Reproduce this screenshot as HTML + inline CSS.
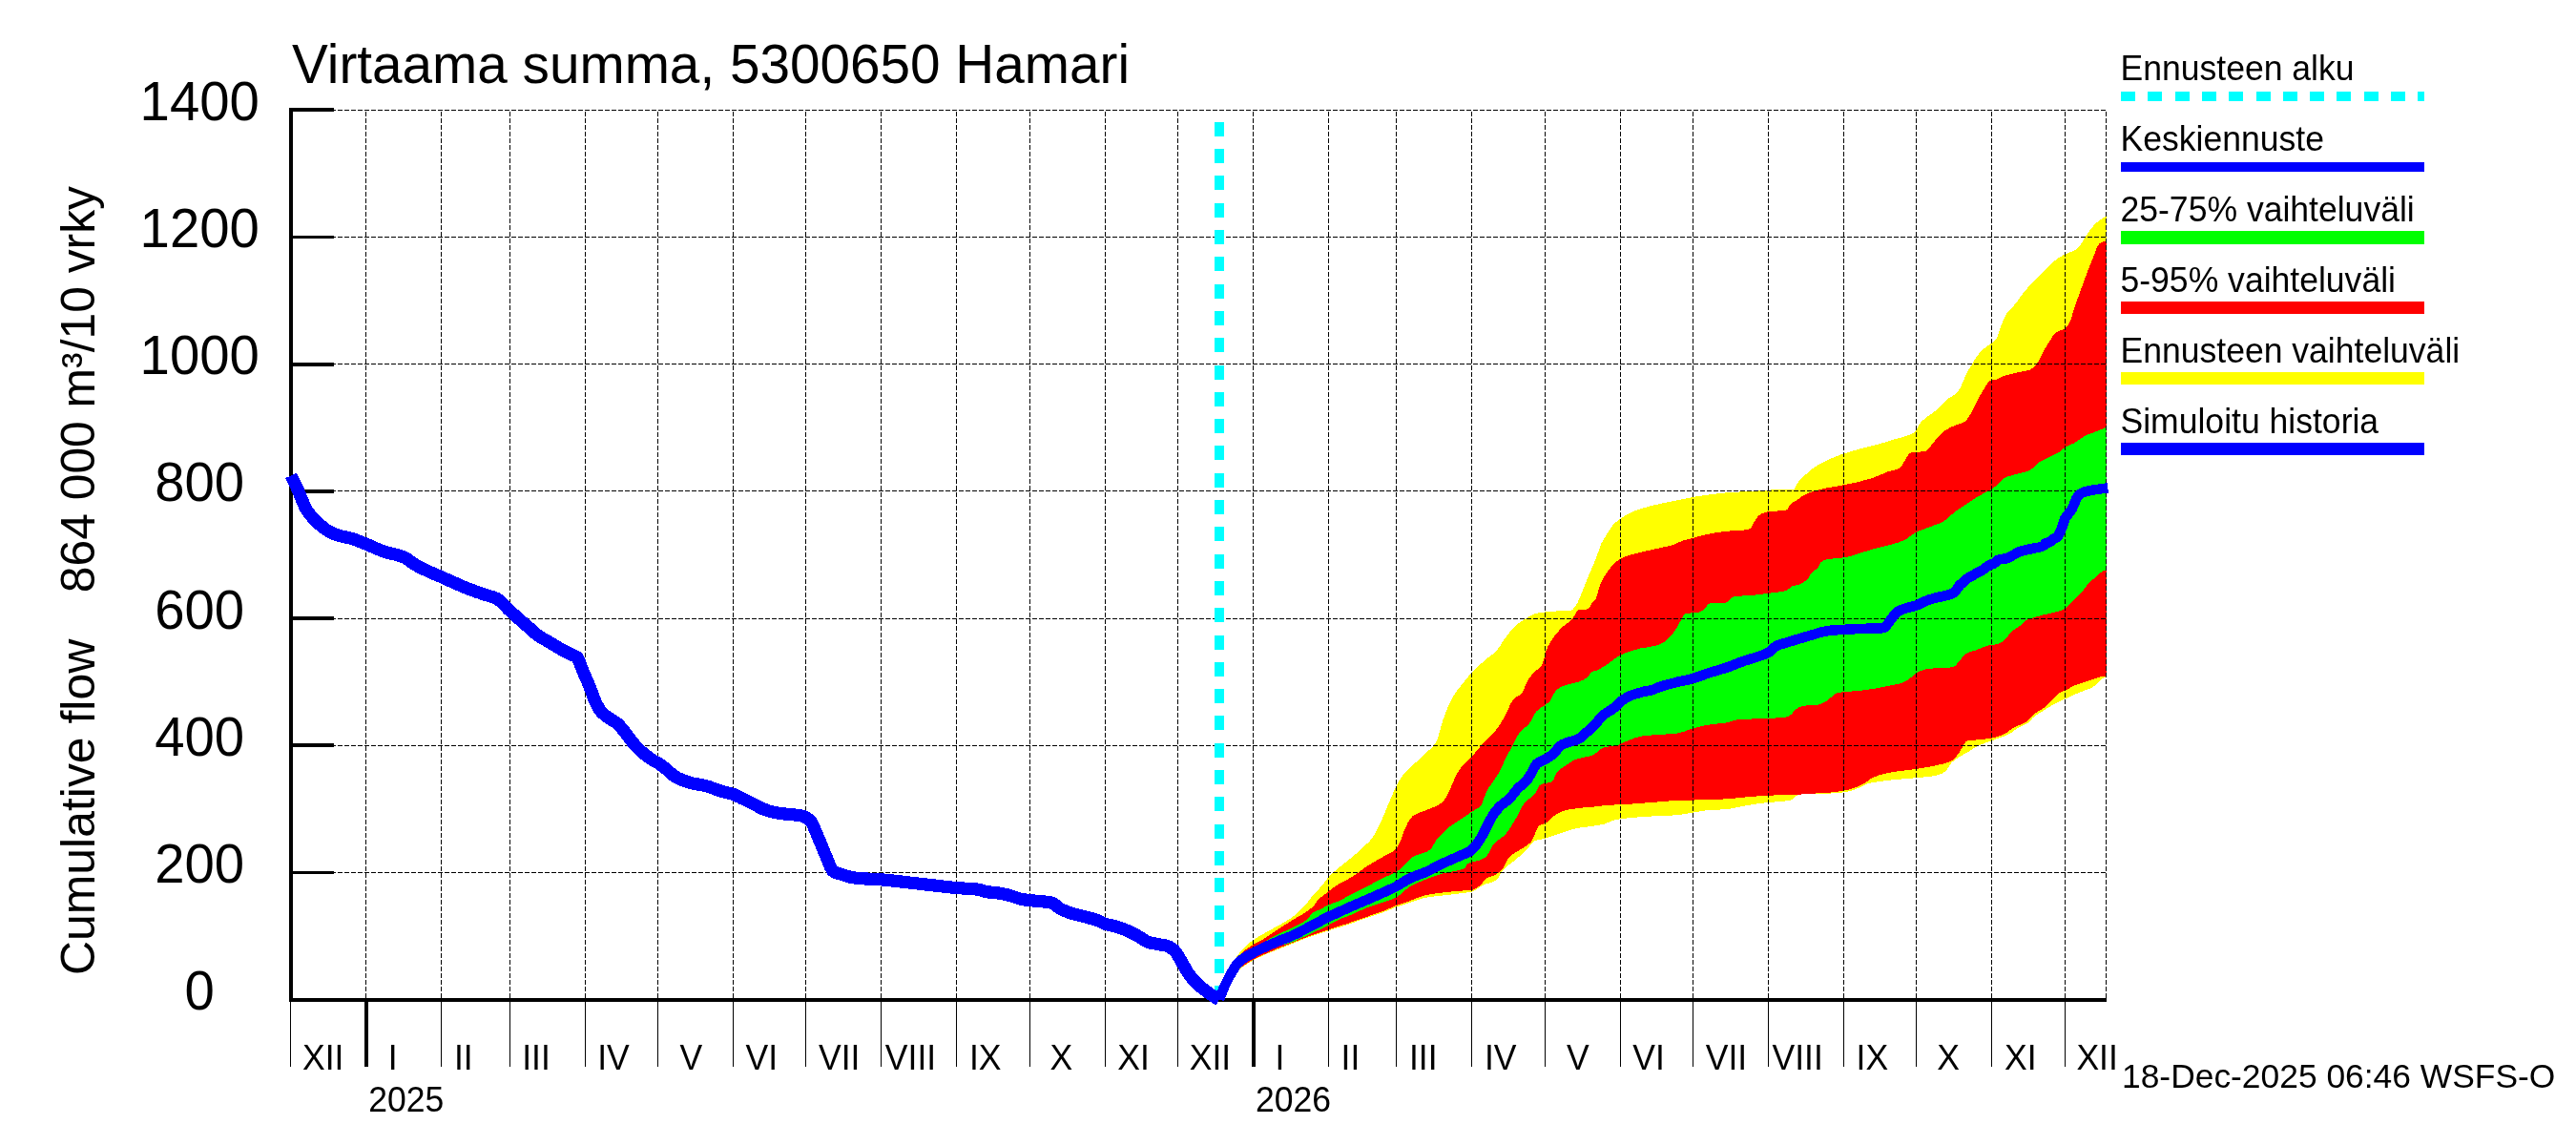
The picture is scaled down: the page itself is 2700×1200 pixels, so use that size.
<!DOCTYPE html>
<html><head><meta charset="utf-8"><title>Virtaama summa, 5300650 Hamari</title>
<style>html,body{margin:0;padding:0;background:#fff}svg{display:block;will-change:transform}text{font-family:"Liberation Sans",sans-serif;fill:#000}</style></head><body>
<svg width="2700" height="1200" viewBox="0 0 2700 1200">
<rect width="2700" height="1200" fill="#fff"/>
<path d="M1278.0,1047.5 L1280.5,1035.5 L1283.0,1025.7 L1285.5,1019.1 L1288.0,1014.3 L1290.5,1010.5 L1293.0,1007.0 L1295.5,1003.6 L1298.0,1000.3 L1300.5,997.2 L1303.0,994.4 L1305.5,991.8 L1308.0,989.5 L1310.5,987.4 L1313.0,985.6 L1315.5,983.9 L1318.0,982.3 L1320.5,980.8 L1323.0,979.4 L1325.5,978.0 L1328.0,976.6 L1330.5,975.2 L1333.0,973.9 L1335.5,972.5 L1338.0,971.1 L1340.5,969.7 L1343.0,968.3 L1345.5,966.9 L1348.0,965.4 L1350.5,963.9 L1353.0,962.2 L1355.5,960.4 L1358.0,958.4 L1360.5,956.3 L1363.0,953.9 L1365.5,951.5 L1368.0,948.7 L1370.5,945.6 L1373.0,942.3 L1375.5,939.1 L1378.0,936.3 L1380.5,933.7 L1383.0,931.1 L1385.5,928.2 L1388.0,925.0 L1390.5,921.7 L1393.0,918.7 L1395.5,916.2 L1398.0,913.9 L1400.5,911.7 L1403.0,909.6 L1405.5,907.6 L1408.0,905.6 L1410.5,903.7 L1413.0,901.7 L1415.5,899.7 L1418.0,897.6 L1420.5,895.4 L1423.0,893.2 L1425.5,891.0 L1428.0,888.7 L1430.5,886.4 L1433.0,884.0 L1435.5,881.6 L1438.0,878.6 L1440.5,874.8 L1443.0,870.3 L1445.5,865.3 L1448.0,859.8 L1450.5,854.0 L1453.0,848.1 L1455.5,842.1 L1458.0,836.2 L1460.5,830.5 L1463.0,825.1 L1465.5,820.2 L1468.0,815.9 L1470.5,812.4 L1473.0,809.4 L1475.5,806.9 L1478.0,804.5 L1480.5,802.2 L1483.0,799.9 L1485.5,797.6 L1488.0,795.3 L1490.5,793.0 L1493.0,790.7 L1495.5,788.3 L1498.0,786.0 L1500.5,783.7 L1503.0,781.0 L1505.5,777.3 L1508.0,770.4 L1510.5,761.0 L1513.0,752.9 L1515.5,746.2 L1518.0,740.1 L1520.5,734.9 L1523.0,730.3 L1525.5,726.2 L1528.0,722.7 L1530.5,719.6 L1533.0,716.6 L1535.5,713.4 L1538.0,710.2 L1540.5,707.0 L1543.0,704.2 L1545.5,701.7 L1548.0,699.4 L1550.5,697.1 L1553.0,695.0 L1555.5,692.8 L1558.0,690.7 L1560.5,688.7 L1563.0,686.8 L1565.5,684.8 L1568.0,682.4 L1570.5,679.4 L1573.0,675.8 L1575.5,671.9 L1578.0,668.3 L1580.5,665.0 L1583.0,661.8 L1585.5,658.8 L1588.0,656.2 L1590.5,654.0 L1593.0,652.2 L1595.5,650.6 L1598.0,649.1 L1600.5,647.6 L1603.0,646.1 L1605.5,644.7 L1608.0,643.6 L1610.5,642.8 L1613.0,642.3 L1615.5,641.9 L1618.0,641.6 L1620.5,641.4 L1623.0,641.1 L1625.5,640.9 L1628.0,640.7 L1630.5,640.5 L1633.0,640.3 L1635.5,640.2 L1638.0,640.1 L1640.5,640.0 L1643.0,640.0 L1645.5,639.8 L1648.0,639.2 L1650.5,636.4 L1653.0,632.7 L1655.5,627.3 L1658.0,621.0 L1660.5,614.9 L1663.0,608.6 L1665.5,602.3 L1668.0,596.4 L1670.5,590.8 L1673.0,584.8 L1675.5,577.6 L1678.0,570.3 L1680.5,565.7 L1683.0,561.9 L1685.5,557.8 L1688.0,553.8 L1690.5,550.4 L1693.0,547.9 L1695.5,545.9 L1698.0,544.1 L1700.5,542.3 L1703.0,540.7 L1705.5,539.2 L1708.0,537.8 L1710.5,536.7 L1713.0,535.6 L1715.5,534.7 L1718.0,533.8 L1720.5,533.0 L1723.0,532.2 L1725.5,531.5 L1728.0,530.8 L1730.5,530.2 L1733.0,529.6 L1735.5,529.0 L1738.0,528.4 L1740.5,527.9 L1743.0,527.3 L1745.5,526.8 L1748.0,526.3 L1750.5,525.9 L1753.0,525.4 L1755.5,524.9 L1758.0,524.4 L1760.5,523.9 L1763.0,523.3 L1765.5,522.8 L1768.0,522.3 L1770.5,521.8 L1773.0,521.3 L1775.5,520.9 L1778.0,520.4 L1780.5,520.1 L1783.0,519.7 L1785.5,519.3 L1788.0,519.0 L1790.5,518.6 L1793.0,518.3 L1795.5,518.0 L1798.0,517.6 L1800.5,517.3 L1803.0,517.0 L1805.5,516.7 L1808.0,516.5 L1810.5,516.3 L1813.0,516.1 L1815.5,515.9 L1818.0,515.8 L1820.5,515.6 L1823.0,515.5 L1825.5,515.4 L1828.0,515.2 L1830.5,515.1 L1833.0,514.9 L1835.5,514.8 L1838.0,514.6 L1840.5,514.5 L1843.0,514.3 L1845.5,514.2 L1848.0,514.0 L1850.5,513.8 L1853.0,513.7 L1855.5,513.5 L1858.0,513.4 L1860.5,513.2 L1863.0,513.1 L1865.5,513.1 L1868.0,513.0 L1870.5,512.9 L1873.0,512.8 L1875.5,512.8 L1878.0,512.7 L1880.5,512.5 L1883.0,507.8 L1885.5,504.3 L1888.0,501.7 L1890.5,499.2 L1893.0,497.0 L1895.5,494.8 L1898.0,492.7 L1900.5,490.7 L1903.0,489.0 L1905.5,487.4 L1908.0,486.0 L1910.5,484.7 L1913.0,483.4 L1915.5,482.2 L1918.0,481.1 L1920.5,480.0 L1923.0,479.0 L1925.5,478.0 L1928.0,477.0 L1930.5,476.1 L1933.0,475.3 L1935.5,474.5 L1938.0,473.7 L1940.5,472.9 L1943.0,472.2 L1945.5,471.5 L1948.0,470.8 L1950.5,470.1 L1953.0,469.4 L1955.5,468.8 L1958.0,468.2 L1960.5,467.6 L1963.0,467.0 L1965.5,466.4 L1968.0,465.7 L1970.5,465.0 L1973.0,464.2 L1975.5,463.5 L1978.0,462.7 L1980.5,461.9 L1983.0,461.2 L1985.5,460.4 L1988.0,459.7 L1990.5,459.1 L1993.0,458.5 L1995.5,457.8 L1998.0,457.0 L2000.5,456.1 L2003.0,455.0 L2005.5,453.6 L2008.0,451.3 L2010.5,446.9 L2013.0,442.9 L2015.5,440.4 L2018.0,438.4 L2020.5,436.4 L2023.0,434.6 L2025.5,432.8 L2028.0,431.0 L2030.5,428.9 L2033.0,426.5 L2035.5,423.8 L2038.0,421.2 L2040.5,418.9 L2043.0,417.1 L2045.5,415.7 L2048.0,414.2 L2050.5,412.3 L2053.0,409.3 L2055.5,404.8 L2058.0,399.1 L2060.5,393.1 L2063.0,388.3 L2065.5,384.2 L2068.0,380.1 L2070.5,375.7 L2073.0,372.2 L2075.5,369.3 L2078.0,366.8 L2080.5,364.5 L2083.0,362.5 L2085.5,361.0 L2088.0,359.3 L2090.5,357.2 L2093.0,354.1 L2095.5,347.2 L2098.0,340.1 L2100.5,333.7 L2103.0,328.8 L2105.5,325.6 L2108.0,323.2 L2110.5,320.7 L2113.0,317.7 L2115.5,314.3 L2118.0,310.8 L2120.5,307.4 L2123.0,304.4 L2125.5,301.5 L2128.0,298.9 L2130.5,296.3 L2133.0,293.7 L2135.5,291.1 L2138.0,288.6 L2140.5,286.2 L2143.0,283.7 L2145.5,281.1 L2148.0,278.4 L2150.5,275.8 L2153.0,273.6 L2155.5,271.8 L2158.0,270.1 L2160.5,268.6 L2163.0,267.2 L2165.5,266.0 L2168.0,265.0 L2170.5,264.1 L2173.0,263.1 L2175.5,261.8 L2178.0,259.7 L2180.5,256.9 L2183.0,253.0 L2185.5,248.6 L2188.0,244.8 L2190.5,241.2 L2193.0,238.1 L2195.5,235.4 L2198.0,233.0 L2200.5,230.9 L2203.0,229.2 L2205.5,227.7 L2208.0,226.5 L2208.0,708.8 L2205.5,710.2 L2203.0,711.8 L2200.5,713.8 L2198.0,716.3 L2195.5,718.7 L2193.0,720.4 L2190.5,721.6 L2188.0,722.5 L2185.5,723.4 L2183.0,724.4 L2180.5,725.4 L2178.0,726.4 L2175.5,727.5 L2173.0,728.6 L2170.5,729.7 L2168.0,730.9 L2165.5,732.0 L2163.0,733.1 L2160.5,734.2 L2158.0,735.3 L2155.5,736.6 L2153.0,738.0 L2150.5,739.5 L2148.0,741.0 L2145.5,742.5 L2143.0,744.1 L2140.5,745.7 L2138.0,747.2 L2135.5,748.6 L2133.0,750.3 L2130.5,752.5 L2128.0,755.3 L2125.5,757.6 L2123.0,759.1 L2120.5,760.3 L2118.0,761.4 L2115.5,762.6 L2113.0,764.2 L2110.5,766.1 L2108.0,768.0 L2105.5,769.4 L2103.0,770.6 L2100.5,771.6 L2098.0,772.6 L2095.5,773.4 L2093.0,774.3 L2090.5,775.2 L2088.0,776.1 L2085.5,777.1 L2083.0,778.0 L2080.5,778.8 L2078.0,779.8 L2075.5,780.8 L2073.0,781.9 L2070.5,783.2 L2068.0,784.8 L2065.5,786.4 L2063.0,787.9 L2060.5,789.3 L2058.0,790.7 L2055.5,792.2 L2053.0,793.8 L2050.5,795.4 L2048.0,797.1 L2045.5,799.3 L2043.0,802.9 L2040.5,806.8 L2038.0,809.1 L2035.5,810.6 L2033.0,811.7 L2030.5,812.4 L2028.0,812.9 L2025.5,813.4 L2023.0,813.7 L2020.5,814.0 L2018.0,814.3 L2015.5,814.5 L2013.0,814.7 L2010.5,815.0 L2008.0,815.2 L2005.5,815.4 L2003.0,815.7 L2000.5,815.9 L1998.0,816.1 L1995.5,816.3 L1993.0,816.5 L1990.5,816.7 L1988.0,816.9 L1985.5,817.2 L1983.0,817.4 L1980.5,817.7 L1978.0,818.0 L1975.5,818.3 L1973.0,818.7 L1970.5,819.0 L1968.0,819.4 L1965.5,819.8 L1963.0,820.2 L1960.5,820.7 L1958.0,821.3 L1955.5,822.1 L1953.0,823.5 L1950.5,824.8 L1948.0,825.8 L1945.5,826.8 L1943.0,827.7 L1940.5,828.5 L1938.0,829.2 L1935.5,829.8 L1933.0,830.2 L1930.5,830.6 L1928.0,830.8 L1925.5,831.1 L1923.0,831.3 L1920.5,831.4 L1918.0,831.6 L1915.5,831.7 L1913.0,831.8 L1910.5,831.9 L1908.0,831.9 L1905.5,832.0 L1903.0,832.0 L1900.5,832.0 L1898.0,832.1 L1895.5,832.1 L1893.0,832.2 L1890.5,832.3 L1888.0,832.5 L1885.5,833.0 L1883.0,834.1 L1880.5,836.0 L1878.0,838.2 L1875.5,838.8 L1873.0,839.3 L1870.5,839.6 L1868.0,839.8 L1865.5,839.9 L1863.0,840.1 L1860.5,840.4 L1858.0,840.7 L1855.5,840.9 L1853.0,841.1 L1850.5,841.4 L1848.0,841.6 L1845.5,841.9 L1843.0,842.2 L1840.5,842.6 L1838.0,842.9 L1835.5,843.4 L1833.0,843.8 L1830.5,844.2 L1828.0,844.7 L1825.5,845.2 L1823.0,845.6 L1820.5,846.1 L1818.0,846.7 L1815.5,847.2 L1813.0,847.7 L1810.5,848.0 L1808.0,848.2 L1805.5,848.4 L1803.0,848.5 L1800.5,848.6 L1798.0,848.7 L1795.5,848.8 L1793.0,848.9 L1790.5,849.1 L1788.0,849.4 L1785.5,849.8 L1783.0,850.2 L1780.5,850.6 L1778.0,851.0 L1775.5,851.4 L1773.0,851.8 L1770.5,852.2 L1768.0,852.7 L1765.5,853.1 L1763.0,853.5 L1760.5,853.9 L1758.0,854.2 L1755.5,854.4 L1753.0,854.5 L1750.5,854.7 L1748.0,854.8 L1745.5,854.9 L1743.0,855.0 L1740.5,855.1 L1738.0,855.2 L1735.5,855.3 L1733.0,855.4 L1730.5,855.5 L1728.0,855.6 L1725.5,855.8 L1723.0,855.9 L1720.5,856.1 L1718.0,856.3 L1715.5,856.5 L1713.0,856.7 L1710.5,856.9 L1708.0,857.1 L1705.5,857.4 L1703.0,857.7 L1700.5,858.0 L1698.0,858.4 L1695.5,858.8 L1693.0,859.3 L1690.5,860.1 L1688.0,861.1 L1685.5,862.1 L1683.0,863.1 L1680.5,863.8 L1678.0,864.3 L1675.5,864.7 L1673.0,865.1 L1670.5,865.5 L1668.0,865.9 L1665.5,866.2 L1663.0,866.6 L1660.5,866.9 L1658.0,867.3 L1655.5,867.6 L1653.0,868.1 L1650.5,868.6 L1648.0,869.2 L1645.5,869.9 L1643.0,870.7 L1640.5,871.5 L1638.0,872.4 L1635.5,873.2 L1633.0,874.0 L1630.5,874.9 L1628.0,875.8 L1625.5,876.8 L1623.0,877.6 L1620.5,878.4 L1618.0,879.1 L1615.5,879.6 L1613.0,880.1 L1610.5,880.7 L1608.0,881.6 L1605.5,883.8 L1603.0,886.9 L1600.5,890.1 L1598.0,892.6 L1595.5,894.9 L1593.0,897.1 L1590.5,899.2 L1588.0,901.3 L1585.5,903.4 L1583.0,905.4 L1580.5,907.2 L1578.0,909.2 L1575.5,911.6 L1573.0,915.3 L1570.5,919.7 L1568.0,922.6 L1565.5,923.9 L1563.0,924.8 L1560.5,925.5 L1558.0,926.3 L1555.5,927.1 L1553.0,928.3 L1550.5,929.9 L1548.0,931.7 L1545.5,933.3 L1543.0,934.5 L1540.5,935.0 L1538.0,935.4 L1535.5,935.7 L1533.0,936.0 L1530.5,936.3 L1528.0,936.6 L1525.5,936.9 L1523.0,937.2 L1520.5,937.5 L1518.0,937.8 L1515.5,938.1 L1513.0,938.4 L1510.5,938.7 L1508.0,939.0 L1505.5,939.3 L1503.0,939.5 L1500.5,939.9 L1498.0,940.2 L1495.5,940.6 L1493.0,941.1 L1490.5,941.7 L1488.0,942.5 L1485.5,943.3 L1483.0,944.1 L1480.5,945.0 L1478.0,945.8 L1475.5,946.6 L1473.0,947.4 L1470.5,948.3 L1468.0,949.1 L1465.5,950.0 L1463.0,950.9 L1460.5,951.8 L1458.0,952.8 L1455.5,953.8 L1453.0,954.8 L1450.5,955.8 L1448.0,956.7 L1445.5,957.6 L1443.0,958.5 L1440.5,959.3 L1438.0,960.1 L1435.5,961.0 L1433.0,961.8 L1430.5,962.7 L1428.0,963.6 L1425.5,964.4 L1423.0,965.3 L1420.5,966.2 L1418.0,967.1 L1415.5,967.9 L1413.0,968.8 L1410.5,969.6 L1408.0,970.4 L1405.5,971.2 L1403.0,972.0 L1400.5,972.8 L1398.0,973.6 L1395.5,974.4 L1393.0,975.3 L1390.5,976.1 L1388.0,976.9 L1385.5,977.7 L1383.0,978.5 L1380.5,979.3 L1378.0,980.1 L1375.5,981.0 L1373.0,981.8 L1370.5,982.7 L1368.0,983.6 L1365.5,984.6 L1363.0,985.6 L1360.5,986.6 L1358.0,987.7 L1355.5,988.7 L1353.0,989.7 L1350.5,990.7 L1348.0,991.6 L1345.5,992.6 L1343.0,993.5 L1340.5,994.5 L1338.0,995.5 L1335.5,996.6 L1333.0,997.6 L1330.5,998.6 L1328.0,999.7 L1325.5,1000.8 L1323.0,1001.9 L1320.5,1003.0 L1318.0,1004.2 L1315.5,1005.5 L1313.0,1006.8 L1310.5,1008.2 L1308.0,1009.7 L1305.5,1011.3 L1303.0,1013.1 L1300.5,1014.9 L1298.0,1016.8 L1295.5,1019.0 L1293.0,1021.8 L1290.5,1025.8 L1288.0,1030.5 L1285.5,1035.2 L1283.0,1039.4 L1280.5,1043.4 L1278.0,1047.5Z" fill="#ffff00" shape-rendering="crispEdges"/>
<path d="M1278.0,1047.5 L1280.5,1038.8 L1283.0,1031.0 L1285.5,1024.4 L1288.0,1018.4 L1290.5,1013.1 L1293.0,1008.6 L1295.5,1005.2 L1298.0,1002.4 L1300.5,999.8 L1303.0,997.6 L1305.5,995.5 L1308.0,993.6 L1310.5,991.9 L1313.0,990.3 L1315.5,988.9 L1318.0,987.6 L1320.5,986.3 L1323.0,984.9 L1325.5,983.3 L1328.0,981.7 L1330.5,980.1 L1333.0,978.4 L1335.5,976.7 L1338.0,975.1 L1340.5,973.4 L1343.0,971.8 L1345.5,970.1 L1348.0,968.5 L1350.5,966.9 L1353.0,965.3 L1355.5,963.8 L1358.0,962.3 L1360.5,960.9 L1363.0,959.5 L1365.5,958.0 L1368.0,956.4 L1370.5,954.7 L1373.0,952.9 L1375.5,950.9 L1378.0,948.1 L1380.5,944.3 L1383.0,941.7 L1385.5,939.6 L1388.0,937.6 L1390.5,935.8 L1393.0,933.8 L1395.5,931.8 L1398.0,929.9 L1400.5,928.2 L1403.0,926.6 L1405.5,925.2 L1408.0,923.9 L1410.5,922.6 L1413.0,921.3 L1415.5,919.9 L1418.0,918.4 L1420.5,916.7 L1423.0,914.9 L1425.5,913.0 L1428.0,911.2 L1430.5,909.5 L1433.0,907.8 L1435.5,906.3 L1438.0,904.8 L1440.5,903.3 L1443.0,901.8 L1445.5,900.3 L1448.0,898.8 L1450.5,897.5 L1453.0,896.2 L1455.5,895.0 L1458.0,893.6 L1460.5,892.0 L1463.0,889.8 L1465.5,886.5 L1468.0,881.1 L1470.5,873.9 L1473.0,867.7 L1475.5,862.5 L1478.0,858.3 L1480.5,855.5 L1483.0,853.9 L1485.5,852.6 L1488.0,851.6 L1490.5,850.8 L1493.0,849.9 L1495.5,848.8 L1498.0,847.7 L1500.5,846.8 L1503.0,845.8 L1505.5,844.7 L1508.0,843.4 L1510.5,841.8 L1513.0,839.7 L1515.5,835.9 L1518.0,830.9 L1520.5,825.7 L1523.0,819.8 L1525.5,814.1 L1528.0,809.5 L1530.5,805.7 L1533.0,802.3 L1535.5,799.6 L1538.0,797.3 L1540.5,795.1 L1543.0,792.6 L1545.5,789.7 L1548.0,786.7 L1550.5,783.6 L1553.0,780.7 L1555.5,777.9 L1558.0,775.5 L1560.5,773.1 L1563.0,770.6 L1565.5,767.9 L1568.0,765.0 L1570.5,761.8 L1573.0,758.1 L1575.5,753.7 L1578.0,749.0 L1580.5,744.0 L1583.0,738.4 L1585.5,734.0 L1588.0,731.4 L1590.5,729.8 L1593.0,728.2 L1595.5,725.8 L1598.0,720.7 L1600.5,714.7 L1603.0,710.6 L1605.5,707.2 L1608.0,704.3 L1610.5,702.4 L1613.0,700.6 L1615.5,697.9 L1618.0,692.0 L1620.5,681.8 L1623.0,676.4 L1625.5,672.2 L1628.0,668.5 L1630.5,665.2 L1633.0,662.2 L1635.5,659.4 L1638.0,656.9 L1640.5,654.8 L1643.0,653.0 L1645.5,651.1 L1648.0,648.8 L1650.5,644.7 L1653.0,639.9 L1655.5,639.1 L1658.0,639.0 L1660.5,638.9 L1663.0,638.7 L1665.5,637.5 L1668.0,632.6 L1670.5,630.4 L1673.0,627.4 L1675.5,617.6 L1678.0,610.5 L1680.5,605.9 L1683.0,601.9 L1685.5,598.3 L1688.0,595.0 L1690.5,592.2 L1693.0,589.8 L1695.5,587.6 L1698.0,585.9 L1700.5,584.7 L1703.0,583.6 L1705.5,582.7 L1708.0,581.9 L1710.5,581.2 L1713.0,580.5 L1715.5,579.8 L1718.0,579.2 L1720.5,578.6 L1723.0,578.0 L1725.5,577.4 L1728.0,576.9 L1730.5,576.3 L1733.0,575.8 L1735.5,575.3 L1738.0,574.7 L1740.5,574.1 L1743.0,573.6 L1745.5,573.0 L1748.0,572.4 L1750.5,571.8 L1753.0,571.1 L1755.5,570.2 L1758.0,569.1 L1760.5,568.0 L1763.0,566.9 L1765.5,566.1 L1768.0,565.4 L1770.5,564.8 L1773.0,564.2 L1775.5,563.5 L1778.0,562.9 L1780.5,562.2 L1783.0,561.6 L1785.5,560.9 L1788.0,560.3 L1790.5,559.8 L1793.0,559.3 L1795.5,558.9 L1798.0,558.4 L1800.5,558.1 L1803.0,557.7 L1805.5,557.3 L1808.0,557.0 L1810.5,556.7 L1813.0,556.5 L1815.5,556.3 L1818.0,556.2 L1820.5,556.1 L1823.0,555.9 L1825.5,555.8 L1828.0,555.5 L1830.5,555.2 L1833.0,554.8 L1835.5,553.3 L1838.0,548.0 L1840.5,543.9 L1843.0,540.7 L1845.5,538.9 L1848.0,537.7 L1850.5,536.9 L1853.0,536.3 L1855.5,535.9 L1858.0,535.7 L1860.5,535.6 L1863.0,535.5 L1865.5,535.3 L1868.0,535.1 L1870.5,534.8 L1873.0,534.3 L1875.5,530.4 L1878.0,527.0 L1880.5,526.0 L1883.0,524.5 L1885.5,522.6 L1888.0,520.8 L1890.5,519.3 L1893.0,518.1 L1895.5,516.9 L1898.0,515.9 L1900.5,515.1 L1903.0,514.3 L1905.5,513.6 L1908.0,513.0 L1910.5,512.4 L1913.0,511.8 L1915.5,511.3 L1918.0,510.8 L1920.5,510.4 L1923.0,509.9 L1925.5,509.5 L1928.0,509.1 L1930.5,508.6 L1933.0,508.2 L1935.5,507.7 L1938.0,507.2 L1940.5,506.6 L1943.0,506.1 L1945.5,505.5 L1948.0,504.9 L1950.5,504.3 L1953.0,503.6 L1955.5,502.9 L1958.0,502.2 L1960.5,501.5 L1963.0,500.7 L1965.5,499.8 L1968.0,499.0 L1970.5,497.9 L1973.0,496.8 L1975.5,495.6 L1978.0,494.6 L1980.5,493.9 L1983.0,493.3 L1985.5,492.7 L1988.0,492.0 L1990.5,491.0 L1993.0,489.0 L1995.5,484.3 L1998.0,480.0 L2000.5,476.0 L2003.0,474.4 L2005.5,474.0 L2008.0,473.8 L2010.5,473.7 L2013.0,473.5 L2015.5,473.3 L2018.0,472.9 L2020.5,471.2 L2023.0,468.2 L2025.5,465.2 L2028.0,462.0 L2030.5,458.8 L2033.0,456.1 L2035.5,453.7 L2038.0,451.7 L2040.5,450.1 L2043.0,448.7 L2045.5,447.5 L2048.0,446.4 L2050.5,445.3 L2053.0,444.4 L2055.5,443.6 L2058.0,442.5 L2060.5,440.9 L2063.0,437.8 L2065.5,433.8 L2068.0,429.0 L2070.5,423.6 L2073.0,418.8 L2075.5,414.3 L2078.0,410.0 L2080.5,405.9 L2083.0,401.9 L2085.5,399.3 L2088.0,398.3 L2090.5,398.2 L2093.0,397.5 L2095.5,396.3 L2098.0,395.1 L2100.5,394.0 L2103.0,393.2 L2105.5,392.5 L2108.0,391.9 L2110.5,391.3 L2113.0,390.8 L2115.5,390.2 L2118.0,389.7 L2120.5,389.3 L2123.0,388.8 L2125.5,388.2 L2128.0,387.4 L2130.5,385.8 L2133.0,383.7 L2135.5,380.5 L2138.0,375.6 L2140.5,370.8 L2143.0,366.3 L2145.5,362.0 L2148.0,358.0 L2150.5,353.9 L2153.0,350.4 L2155.5,348.2 L2158.0,346.9 L2160.5,346.0 L2163.0,345.0 L2165.5,343.4 L2168.0,340.5 L2170.5,335.3 L2173.0,326.5 L2175.5,318.8 L2178.0,311.9 L2180.5,305.2 L2183.0,298.3 L2185.5,291.3 L2188.0,284.5 L2190.5,278.1 L2193.0,271.9 L2195.5,265.7 L2198.0,258.7 L2200.5,255.3 L2203.0,253.9 L2205.5,253.0 L2208.0,252.7 L2208.0,708.8 L2205.5,708.9 L2203.0,709.2 L2200.5,709.7 L2198.0,710.5 L2195.5,711.4 L2193.0,712.2 L2190.5,713.0 L2188.0,713.8 L2185.5,714.7 L2183.0,715.5 L2180.5,716.3 L2178.0,717.1 L2175.5,717.9 L2173.0,719.0 L2170.5,720.4 L2168.0,721.9 L2165.5,723.3 L2163.0,724.3 L2160.5,725.3 L2158.0,726.8 L2155.5,728.8 L2153.0,731.0 L2150.5,733.8 L2148.0,736.8 L2145.5,739.3 L2143.0,741.2 L2140.5,743.0 L2138.0,744.6 L2135.5,746.1 L2133.0,747.7 L2130.5,749.8 L2128.0,752.7 L2125.5,755.4 L2123.0,757.2 L2120.5,758.5 L2118.0,759.4 L2115.5,760.3 L2113.0,761.3 L2110.5,762.6 L2108.0,764.3 L2105.5,766.2 L2103.0,767.9 L2100.5,769.3 L2098.0,770.4 L2095.5,771.4 L2093.0,772.3 L2090.5,773.0 L2088.0,773.5 L2085.5,773.9 L2083.0,774.2 L2080.5,774.5 L2078.0,774.7 L2075.5,775.0 L2073.0,775.2 L2070.5,775.5 L2068.0,775.7 L2065.5,775.9 L2063.0,776.3 L2060.5,777.3 L2058.0,781.3 L2055.5,785.4 L2053.0,789.3 L2050.5,792.7 L2048.0,795.5 L2045.5,797.3 L2043.0,798.5 L2040.5,799.4 L2038.0,800.2 L2035.5,800.8 L2033.0,801.4 L2030.5,801.9 L2028.0,802.5 L2025.5,803.0 L2023.0,803.5 L2020.5,804.0 L2018.0,804.4 L2015.5,804.8 L2013.0,805.2 L2010.5,805.6 L2008.0,806.0 L2005.5,806.3 L2003.0,806.6 L2000.5,806.9 L1998.0,807.2 L1995.5,807.5 L1993.0,807.8 L1990.5,808.2 L1988.0,808.5 L1985.5,808.9 L1983.0,809.3 L1980.5,809.7 L1978.0,810.2 L1975.5,810.8 L1973.0,811.4 L1970.5,812.1 L1968.0,813.0 L1965.5,813.9 L1963.0,815.0 L1960.5,816.5 L1958.0,818.2 L1955.5,819.9 L1953.0,821.6 L1950.5,823.0 L1948.0,824.1 L1945.5,825.1 L1943.0,825.9 L1940.5,826.7 L1938.0,827.4 L1935.5,828.0 L1933.0,828.5 L1930.5,828.9 L1928.0,829.3 L1925.5,829.7 L1923.0,830.0 L1920.5,830.3 L1918.0,830.6 L1915.5,830.8 L1913.0,831.0 L1910.5,831.1 L1908.0,831.2 L1905.5,831.4 L1903.0,831.5 L1900.5,831.6 L1898.0,831.7 L1895.5,831.9 L1893.0,832.0 L1890.5,832.3 L1888.0,832.5 L1885.5,832.6 L1883.0,832.8 L1880.5,832.8 L1878.0,832.8 L1875.5,832.9 L1873.0,832.9 L1870.5,833.0 L1868.0,833.1 L1865.5,833.2 L1863.0,833.3 L1860.5,833.4 L1858.0,833.6 L1855.5,833.7 L1853.0,833.8 L1850.5,833.9 L1848.0,834.1 L1845.5,834.2 L1843.0,834.4 L1840.5,834.5 L1838.0,834.7 L1835.5,834.9 L1833.0,835.1 L1830.5,835.3 L1828.0,835.6 L1825.5,835.8 L1823.0,836.1 L1820.5,836.4 L1818.0,836.6 L1815.5,836.9 L1813.0,837.1 L1810.5,837.2 L1808.0,837.4 L1805.5,837.5 L1803.0,837.6 L1800.5,837.7 L1798.0,837.8 L1795.5,837.9 L1793.0,837.9 L1790.5,838.0 L1788.0,838.1 L1785.5,838.2 L1783.0,838.2 L1780.5,838.3 L1778.0,838.4 L1775.5,838.5 L1773.0,838.5 L1770.5,838.6 L1768.0,838.7 L1765.5,838.8 L1763.0,838.8 L1760.5,838.9 L1758.0,839.0 L1755.5,839.1 L1753.0,839.3 L1750.5,839.4 L1748.0,839.6 L1745.5,839.8 L1743.0,840.0 L1740.5,840.2 L1738.0,840.4 L1735.5,840.6 L1733.0,840.8 L1730.5,841.0 L1728.0,841.2 L1725.5,841.4 L1723.0,841.6 L1720.5,841.8 L1718.0,842.0 L1715.5,842.2 L1713.0,842.3 L1710.5,842.5 L1708.0,842.7 L1705.5,842.8 L1703.0,843.0 L1700.5,843.1 L1698.0,843.2 L1695.5,843.3 L1693.0,843.4 L1690.5,843.6 L1688.0,843.7 L1685.5,843.9 L1683.0,844.1 L1680.5,844.4 L1678.0,844.6 L1675.5,844.9 L1673.0,845.2 L1670.5,845.5 L1668.0,845.7 L1665.5,845.9 L1663.0,846.2 L1660.5,846.4 L1658.0,846.6 L1655.5,846.9 L1653.0,847.2 L1650.5,847.5 L1648.0,847.9 L1645.5,848.3 L1643.0,848.7 L1640.5,849.3 L1638.0,850.0 L1635.5,851.0 L1633.0,852.4 L1630.5,854.0 L1628.0,855.8 L1625.5,857.8 L1623.0,860.3 L1620.5,862.4 L1618.0,863.5 L1615.5,864.1 L1613.0,865.3 L1610.5,869.9 L1608.0,876.2 L1605.5,881.5 L1603.0,884.1 L1600.5,886.1 L1598.0,887.7 L1595.5,889.2 L1593.0,890.8 L1590.5,892.3 L1588.0,893.8 L1585.5,895.3 L1583.0,897.2 L1580.5,900.4 L1578.0,905.5 L1575.5,909.9 L1573.0,912.6 L1570.5,914.8 L1568.0,916.4 L1565.5,917.6 L1563.0,918.4 L1560.5,919.3 L1558.0,920.5 L1555.5,922.9 L1553.0,926.2 L1550.5,928.7 L1548.0,930.5 L1545.5,931.9 L1543.0,932.8 L1540.5,933.1 L1538.0,933.3 L1535.5,933.4 L1533.0,933.5 L1530.5,933.7 L1528.0,933.9 L1525.5,934.1 L1523.0,934.3 L1520.5,934.6 L1518.0,934.8 L1515.5,935.1 L1513.0,935.4 L1510.5,935.7 L1508.0,936.0 L1505.5,936.3 L1503.0,936.7 L1500.5,937.1 L1498.0,937.5 L1495.5,938.0 L1493.0,938.6 L1490.5,939.3 L1488.0,940.2 L1485.5,941.1 L1483.0,942.1 L1480.5,943.1 L1478.0,944.0 L1475.5,944.9 L1473.0,945.8 L1470.5,946.6 L1468.0,947.5 L1465.5,948.4 L1463.0,949.3 L1460.5,950.3 L1458.0,951.3 L1455.5,952.4 L1453.0,953.5 L1450.5,954.5 L1448.0,955.5 L1445.5,956.4 L1443.0,957.3 L1440.5,958.1 L1438.0,959.0 L1435.5,959.8 L1433.0,960.7 L1430.5,961.6 L1428.0,962.5 L1425.5,963.4 L1423.0,964.2 L1420.5,965.1 L1418.0,966.0 L1415.5,966.8 L1413.0,967.7 L1410.5,968.5 L1408.0,969.3 L1405.5,970.1 L1403.0,970.9 L1400.5,971.7 L1398.0,972.5 L1395.5,973.3 L1393.0,974.2 L1390.5,975.0 L1388.0,975.8 L1385.5,976.6 L1383.0,977.5 L1380.5,978.3 L1378.0,979.1 L1375.5,980.0 L1373.0,980.9 L1370.5,981.8 L1368.0,982.7 L1365.5,983.7 L1363.0,984.7 L1360.5,985.7 L1358.0,986.7 L1355.5,987.7 L1353.0,988.7 L1350.5,989.7 L1348.0,990.7 L1345.5,991.7 L1343.0,992.7 L1340.5,993.7 L1338.0,994.7 L1335.5,995.8 L1333.0,996.8 L1330.5,997.9 L1328.0,998.9 L1325.5,1000.0 L1323.0,1001.1 L1320.5,1002.2 L1318.0,1003.4 L1315.5,1004.7 L1313.0,1006.0 L1310.5,1007.4 L1308.0,1008.9 L1305.5,1010.6 L1303.0,1012.3 L1300.5,1014.1 L1298.0,1016.0 L1295.5,1018.2 L1293.0,1021.0 L1290.5,1025.0 L1288.0,1029.6 L1285.5,1034.3 L1283.0,1038.7 L1280.5,1043.1 L1278.0,1047.5Z" fill="#ff0000" shape-rendering="crispEdges"/>
<path d="M1278.0,1047.5 L1280.5,1039.9 L1283.0,1032.9 L1285.5,1026.9 L1288.0,1021.1 L1290.5,1015.8 L1293.0,1011.6 L1295.5,1008.7 L1298.0,1006.3 L1300.5,1004.2 L1303.0,1002.3 L1305.5,1000.7 L1308.0,999.1 L1310.5,997.5 L1313.0,995.8 L1315.5,994.1 L1318.0,992.3 L1320.5,990.6 L1323.0,988.9 L1325.5,987.3 L1328.0,985.6 L1330.5,984.1 L1333.0,982.6 L1335.5,981.1 L1338.0,979.8 L1340.5,978.6 L1343.0,977.4 L1345.5,976.4 L1348.0,975.3 L1350.5,974.2 L1353.0,973.1 L1355.5,971.9 L1358.0,970.7 L1360.5,969.5 L1363.0,968.2 L1365.5,966.8 L1368.0,965.1 L1370.5,963.0 L1373.0,959.9 L1375.5,957.1 L1378.0,955.6 L1380.5,954.4 L1383.0,953.3 L1385.5,952.1 L1388.0,950.7 L1390.5,949.4 L1393.0,948.2 L1395.5,947.2 L1398.0,946.3 L1400.5,945.4 L1403.0,944.3 L1405.5,943.1 L1408.0,941.8 L1410.5,940.5 L1413.0,939.2 L1415.5,937.9 L1418.0,936.7 L1420.5,935.4 L1423.0,934.2 L1425.5,933.0 L1428.0,931.7 L1430.5,930.4 L1433.0,929.1 L1435.5,927.8 L1438.0,926.4 L1440.5,924.9 L1443.0,923.5 L1445.5,922.2 L1448.0,920.9 L1450.5,919.7 L1453.0,918.6 L1455.5,917.6 L1458.0,916.5 L1460.5,915.4 L1463.0,914.0 L1465.5,912.4 L1468.0,910.5 L1470.5,908.4 L1473.0,905.9 L1475.5,903.1 L1478.0,900.4 L1480.5,898.2 L1483.0,896.9 L1485.5,895.9 L1488.0,895.1 L1490.5,894.4 L1493.0,893.6 L1495.5,892.6 L1498.0,891.2 L1500.5,888.6 L1503.0,884.3 L1505.5,880.4 L1508.0,877.4 L1510.5,874.7 L1513.0,872.1 L1515.5,869.8 L1518.0,867.6 L1520.5,865.7 L1523.0,863.9 L1525.5,862.3 L1528.0,860.7 L1530.5,859.1 L1533.0,857.4 L1535.5,855.6 L1538.0,853.9 L1540.5,852.1 L1543.0,850.4 L1545.5,849.0 L1548.0,847.6 L1550.5,845.9 L1553.0,843.2 L1555.5,836.3 L1558.0,829.4 L1560.5,825.3 L1563.0,821.9 L1565.5,818.3 L1568.0,814.8 L1570.5,811.0 L1573.0,806.4 L1575.5,800.6 L1578.0,794.7 L1580.5,789.9 L1583.0,785.7 L1585.5,781.4 L1588.0,776.5 L1590.5,771.4 L1593.0,767.5 L1595.5,764.9 L1598.0,762.9 L1600.5,760.9 L1603.0,758.3 L1605.5,754.2 L1608.0,749.2 L1610.5,745.5 L1613.0,743.3 L1615.5,741.5 L1618.0,739.9 L1620.5,738.2 L1623.0,736.4 L1625.5,733.5 L1628.0,728.3 L1630.5,723.8 L1633.0,721.8 L1635.5,720.4 L1638.0,719.2 L1640.5,718.3 L1643.0,717.5 L1645.5,716.9 L1648.0,716.4 L1650.5,715.8 L1653.0,715.0 L1655.5,714.2 L1658.0,713.3 L1660.5,712.1 L1663.0,710.6 L1665.5,707.7 L1668.0,704.4 L1670.5,703.1 L1673.0,702.8 L1675.5,701.7 L1678.0,700.3 L1680.5,698.8 L1683.0,697.3 L1685.5,695.6 L1688.0,693.7 L1690.5,691.8 L1693.0,689.9 L1695.5,688.2 L1698.0,686.8 L1700.5,685.7 L1703.0,684.6 L1705.5,683.6 L1708.0,682.7 L1710.5,681.9 L1713.0,681.2 L1715.5,680.5 L1718.0,679.8 L1720.5,679.3 L1723.0,678.9 L1725.5,678.5 L1728.0,678.1 L1730.5,677.6 L1733.0,677.2 L1735.5,676.6 L1738.0,675.9 L1740.5,675.0 L1743.0,673.7 L1745.5,671.8 L1748.0,669.6 L1750.5,667.1 L1753.0,664.3 L1755.5,661.1 L1758.0,656.9 L1760.5,652.5 L1763.0,647.6 L1765.5,643.6 L1768.0,642.9 L1770.5,642.6 L1773.0,642.4 L1775.5,642.3 L1778.0,642.1 L1780.5,641.8 L1783.0,640.9 L1785.5,638.6 L1788.0,636.1 L1790.5,633.3 L1793.0,632.2 L1795.5,632.0 L1798.0,632.0 L1800.5,631.9 L1803.0,631.9 L1805.5,631.8 L1808.0,631.7 L1810.5,631.3 L1813.0,628.7 L1815.5,625.9 L1818.0,625.1 L1820.5,624.8 L1823.0,624.7 L1825.5,624.5 L1828.0,624.4 L1830.5,624.3 L1833.0,624.1 L1835.5,623.9 L1838.0,623.7 L1840.5,623.4 L1843.0,623.1 L1845.5,622.8 L1848.0,622.5 L1850.5,622.2 L1853.0,621.8 L1855.5,621.5 L1858.0,621.2 L1860.5,620.9 L1863.0,620.6 L1865.5,620.3 L1868.0,619.9 L1870.5,619.3 L1873.0,618.7 L1875.5,616.7 L1878.0,614.4 L1880.5,613.6 L1883.0,613.4 L1885.5,612.7 L1888.0,611.6 L1890.5,610.0 L1893.0,608.2 L1895.5,605.6 L1898.0,601.2 L1900.5,598.6 L1903.0,597.2 L1905.5,594.7 L1908.0,589.9 L1910.5,587.6 L1913.0,586.8 L1915.5,586.2 L1918.0,585.8 L1920.5,585.5 L1923.0,585.2 L1925.5,585.0 L1928.0,584.8 L1930.5,584.6 L1933.0,584.3 L1935.5,583.9 L1938.0,583.3 L1940.5,582.5 L1943.0,581.7 L1945.5,580.9 L1948.0,580.1 L1950.5,579.3 L1953.0,578.6 L1955.5,577.8 L1958.0,577.1 L1960.5,576.3 L1963.0,575.5 L1965.5,574.8 L1968.0,574.1 L1970.5,573.5 L1973.0,572.9 L1975.5,572.3 L1978.0,571.7 L1980.5,571.1 L1983.0,570.4 L1985.5,569.7 L1988.0,569.0 L1990.5,568.2 L1993.0,567.3 L1995.5,566.3 L1998.0,565.0 L2000.5,563.2 L2003.0,561.4 L2005.5,559.6 L2008.0,558.1 L2010.5,556.9 L2013.0,555.9 L2015.5,554.9 L2018.0,554.0 L2020.5,553.0 L2023.0,552.1 L2025.5,551.2 L2028.0,550.3 L2030.5,549.4 L2033.0,548.4 L2035.5,547.2 L2038.0,545.8 L2040.5,543.9 L2043.0,541.7 L2045.5,539.4 L2048.0,537.3 L2050.5,535.5 L2053.0,533.8 L2055.5,532.1 L2058.0,530.4 L2060.5,528.8 L2063.0,527.1 L2065.5,525.4 L2068.0,523.7 L2070.5,522.0 L2073.0,520.5 L2075.5,519.1 L2078.0,517.7 L2080.5,516.4 L2083.0,515.1 L2085.5,513.7 L2088.0,512.2 L2090.5,510.5 L2093.0,508.2 L2095.5,505.6 L2098.0,503.0 L2100.5,501.1 L2103.0,500.0 L2105.5,499.1 L2108.0,498.4 L2110.5,497.7 L2113.0,497.1 L2115.5,496.3 L2118.0,495.7 L2120.5,495.1 L2123.0,494.5 L2125.5,493.7 L2128.0,492.6 L2130.5,490.7 L2133.0,488.3 L2135.5,485.9 L2138.0,484.1 L2140.5,482.6 L2143.0,481.4 L2145.5,480.2 L2148.0,479.1 L2150.5,477.9 L2153.0,476.7 L2155.5,475.5 L2158.0,474.2 L2160.5,472.3 L2163.0,469.9 L2165.5,468.1 L2168.0,466.9 L2170.5,465.9 L2173.0,464.9 L2175.5,463.5 L2178.0,461.8 L2180.5,460.0 L2183.0,458.3 L2185.5,456.9 L2188.0,455.7 L2190.5,454.7 L2193.0,453.7 L2195.5,452.8 L2198.0,451.8 L2200.5,450.9 L2203.0,449.9 L2205.5,448.8 L2208.0,447.6 L2208.0,597.1 L2205.5,598.0 L2203.0,599.2 L2200.5,600.9 L2198.0,603.2 L2195.5,605.6 L2193.0,607.9 L2190.5,610.3 L2188.0,612.9 L2185.5,615.8 L2183.0,619.3 L2180.5,622.4 L2178.0,625.0 L2175.5,627.4 L2173.0,629.8 L2170.5,632.2 L2168.0,634.5 L2165.5,636.6 L2163.0,638.4 L2160.5,639.8 L2158.0,640.6 L2155.5,641.2 L2153.0,641.8 L2150.5,642.3 L2148.0,642.9 L2145.5,643.5 L2143.0,644.1 L2140.5,644.7 L2138.0,645.4 L2135.5,646.1 L2133.0,646.8 L2130.5,647.5 L2128.0,648.4 L2125.5,649.4 L2123.0,650.7 L2120.5,652.9 L2118.0,655.3 L2115.5,657.2 L2113.0,658.7 L2110.5,660.2 L2108.0,662.4 L2105.5,665.4 L2103.0,668.4 L2100.5,671.0 L2098.0,673.1 L2095.5,674.2 L2093.0,675.1 L2090.5,675.7 L2088.0,676.0 L2085.5,676.1 L2083.0,676.7 L2080.5,677.6 L2078.0,678.6 L2075.5,679.7 L2073.0,680.7 L2070.5,681.5 L2068.0,682.2 L2065.5,682.9 L2063.0,683.9 L2060.5,685.2 L2058.0,687.7 L2055.5,690.6 L2053.0,693.5 L2050.5,696.8 L2048.0,698.9 L2045.5,699.3 L2043.0,699.6 L2040.5,699.8 L2038.0,699.9 L2035.5,700.0 L2033.0,700.1 L2030.5,700.2 L2028.0,700.3 L2025.5,700.5 L2023.0,700.8 L2020.5,701.1 L2018.0,701.6 L2015.5,702.2 L2013.0,703.0 L2010.5,703.9 L2008.0,705.6 L2005.5,707.9 L2003.0,710.1 L2000.5,712.0 L1998.0,713.7 L1995.5,715.0 L1993.0,715.8 L1990.5,716.5 L1988.0,717.0 L1985.5,717.5 L1983.0,718.1 L1980.5,718.6 L1978.0,719.2 L1975.5,719.7 L1973.0,720.2 L1970.5,720.6 L1968.0,721.1 L1965.5,721.5 L1963.0,721.9 L1960.5,722.3 L1958.0,722.7 L1955.5,723.1 L1953.0,723.4 L1950.5,723.7 L1948.0,724.0 L1945.5,724.2 L1943.0,724.4 L1940.5,724.5 L1938.0,724.7 L1935.5,724.9 L1933.0,725.1 L1930.5,725.4 L1928.0,725.8 L1925.5,726.4 L1923.0,727.6 L1920.5,729.6 L1918.0,731.9 L1915.5,733.9 L1913.0,735.6 L1910.5,737.1 L1908.0,738.1 L1905.5,738.5 L1903.0,738.8 L1900.5,738.9 L1898.0,739.1 L1895.5,739.3 L1893.0,739.5 L1890.5,739.9 L1888.0,740.5 L1885.5,741.4 L1883.0,742.9 L1880.5,745.1 L1878.0,748.4 L1875.5,750.2 L1873.0,751.3 L1870.5,751.8 L1868.0,752.0 L1865.5,752.2 L1863.0,752.4 L1860.5,752.5 L1858.0,752.6 L1855.5,752.7 L1853.0,752.8 L1850.5,752.9 L1848.0,753.0 L1845.5,753.1 L1843.0,753.2 L1840.5,753.3 L1838.0,753.4 L1835.5,753.5 L1833.0,753.6 L1830.5,753.6 L1828.0,753.8 L1825.5,753.9 L1823.0,754.1 L1820.5,754.3 L1818.0,754.9 L1815.5,755.7 L1813.0,756.5 L1810.5,757.2 L1808.0,757.6 L1805.5,757.9 L1803.0,758.2 L1800.5,758.4 L1798.0,758.7 L1795.5,759.0 L1793.0,759.3 L1790.5,759.7 L1788.0,760.2 L1785.5,760.7 L1783.0,761.3 L1780.5,761.9 L1778.0,762.5 L1775.5,763.1 L1773.0,763.8 L1770.5,764.6 L1768.0,765.6 L1765.5,766.5 L1763.0,767.3 L1760.5,768.1 L1758.0,768.6 L1755.5,768.8 L1753.0,769.1 L1750.5,769.2 L1748.0,769.4 L1745.5,769.5 L1743.0,769.7 L1740.5,769.8 L1738.0,770.0 L1735.5,770.2 L1733.0,770.3 L1730.5,770.5 L1728.0,770.7 L1725.5,770.9 L1723.0,771.2 L1720.5,771.6 L1718.0,772.1 L1715.5,772.8 L1713.0,773.6 L1710.5,774.5 L1708.0,775.5 L1705.5,776.6 L1703.0,777.6 L1700.5,778.7 L1698.0,780.1 L1695.5,781.1 L1693.0,781.6 L1690.5,781.9 L1688.0,782.2 L1685.5,782.5 L1683.0,782.9 L1680.5,783.5 L1678.0,784.8 L1675.5,786.9 L1673.0,789.1 L1670.5,791.0 L1668.0,792.0 L1665.5,792.7 L1663.0,793.2 L1660.5,793.7 L1658.0,794.2 L1655.5,794.8 L1653.0,795.5 L1650.5,796.4 L1648.0,797.7 L1645.5,799.3 L1643.0,801.0 L1640.5,802.6 L1638.0,804.3 L1635.5,806.1 L1633.0,808.4 L1630.5,811.8 L1628.0,818.1 L1625.5,819.6 L1623.0,820.3 L1620.5,820.7 L1618.0,821.2 L1615.5,821.9 L1613.0,823.7 L1610.5,829.3 L1608.0,832.6 L1605.5,835.0 L1603.0,837.0 L1600.5,839.0 L1598.0,841.5 L1595.5,845.0 L1593.0,850.2 L1590.5,854.9 L1588.0,859.3 L1585.5,863.4 L1583.0,867.5 L1580.5,871.3 L1578.0,874.3 L1575.5,876.6 L1573.0,878.6 L1570.5,880.4 L1568.0,882.4 L1565.5,884.9 L1563.0,888.6 L1560.5,893.8 L1558.0,897.8 L1555.5,899.4 L1553.0,900.6 L1550.5,901.5 L1548.0,902.3 L1545.5,902.8 L1543.0,903.3 L1540.5,904.0 L1538.0,905.5 L1535.5,909.8 L1533.0,911.1 L1530.5,911.7 L1528.0,912.4 L1525.5,912.9 L1523.0,913.4 L1520.5,913.8 L1518.0,914.2 L1515.5,914.7 L1513.0,915.3 L1510.5,915.9 L1508.0,916.7 L1505.5,917.5 L1503.0,918.4 L1500.5,919.3 L1498.0,920.3 L1495.5,921.3 L1493.0,922.3 L1490.5,923.3 L1488.0,924.3 L1485.5,925.3 L1483.0,926.5 L1480.5,927.7 L1478.0,929.1 L1475.5,930.7 L1473.0,932.8 L1470.5,935.0 L1468.0,937.3 L1465.5,939.3 L1463.0,940.7 L1460.5,941.8 L1458.0,942.8 L1455.5,943.6 L1453.0,944.4 L1450.5,945.2 L1448.0,946.0 L1445.5,946.9 L1443.0,947.7 L1440.5,948.6 L1438.0,949.4 L1435.5,950.3 L1433.0,951.2 L1430.5,952.3 L1428.0,953.3 L1425.5,954.5 L1423.0,955.7 L1420.5,956.8 L1418.0,958.0 L1415.5,959.0 L1413.0,960.0 L1410.5,961.0 L1408.0,961.9 L1405.5,962.9 L1403.0,963.9 L1400.5,965.1 L1398.0,966.4 L1395.5,967.9 L1393.0,969.3 L1390.5,970.6 L1388.0,971.9 L1385.5,973.1 L1383.0,974.3 L1380.5,975.5 L1378.0,976.7 L1375.5,977.8 L1373.0,979.0 L1370.5,980.1 L1368.0,981.3 L1365.5,982.5 L1363.0,983.7 L1360.5,984.8 L1358.0,986.0 L1355.5,987.0 L1353.0,987.9 L1350.5,988.7 L1348.0,989.5 L1345.5,990.2 L1343.0,990.9 L1340.5,991.6 L1338.0,992.4 L1335.5,993.2 L1333.0,994.0 L1330.5,994.9 L1328.0,995.7 L1325.5,996.6 L1323.0,997.6 L1320.5,998.6 L1318.0,999.6 L1315.5,1000.8 L1313.0,1002.1 L1310.5,1003.4 L1308.0,1004.9 L1305.5,1006.5 L1303.0,1008.3 L1300.5,1010.3 L1298.0,1012.5 L1295.5,1015.0 L1293.0,1017.9 L1290.5,1021.9 L1288.0,1026.7 L1285.5,1031.8 L1283.0,1036.8 L1280.5,1042.0 L1278.0,1047.5Z" fill="#00ff00" shape-rendering="crispEdges"/>
<path d="M304.85,914.36H2207.6M304.85,781.21H2207.6M304.85,648.07H2207.6M304.85,514.93H2207.6M304.85,381.79H2207.6M304.85,248.64H2207.6M304.85,115.50H2207.6M383.81,117.0V1047.5M462.78,117.0V1047.5M534.10,117.0V1047.5M613.06,117.0V1047.5M689.48,117.0V1047.5M768.44,117.0V1047.5M844.85,117.0V1047.5M923.82,117.0V1047.5M1002.78,117.0V1047.5M1079.20,117.0V1047.5M1158.16,117.0V1047.5M1234.57,117.0V1047.5M1313.54,117.0V1047.5M1392.50,117.0V1047.5M1463.82,117.0V1047.5M1542.78,117.0V1047.5M1619.20,117.0V1047.5M1698.16,117.0V1047.5M1774.58,117.0V1047.5M1853.54,117.0V1047.5M1932.50,117.0V1047.5M2008.92,117.0V1047.5M2087.88,117.0V1047.5M2164.30,117.0V1047.5M2207.6,117.0V1047.5" stroke="#000" stroke-width="1" stroke-dasharray="5 2" fill="none" shape-rendering="crispEdges"/>
<path d="M1277.9,1048.4V115.5" stroke="#00ffff" stroke-width="10" stroke-dasharray="15 13.3" fill="none" shape-rendering="crispEdges"/>
<path d="M304.85,113.0V1049.5M303.85,1047.5H2208.1" stroke="#000" stroke-width="4" fill="none" shape-rendering="crispEdges"/>
<path d="M302.85,914.36H350.35M302.85,781.21H350.35M302.85,648.07H350.35M302.85,514.93H350.35M302.85,381.79H350.35M302.85,248.64H350.35" stroke="#000" stroke-width="3.56" fill="none" shape-rendering="crispEdges"/>
<path d="M302.85,115H350.35" stroke="#000" stroke-width="4" fill="none" shape-rendering="crispEdges"/>
<path d="M304.9,1047.5V1118M462.8,1047.5V1118M534.1,1047.5V1118M613.1,1047.5V1118M689.5,1047.5V1118M768.4,1047.5V1118M844.9,1047.5V1118M923.8,1047.5V1118M1002.8,1047.5V1118M1079.2,1047.5V1118M1158.2,1047.5V1118M1234.6,1047.5V1118M1392.5,1047.5V1118M1463.8,1047.5V1118M1542.8,1047.5V1118M1619.2,1047.5V1118M1698.2,1047.5V1118M1774.6,1047.5V1118M1853.5,1047.5V1118M1932.5,1047.5V1118M2008.9,1047.5V1118M2087.9,1047.5V1118M2164.3,1047.5V1118" stroke="#000" stroke-width="1" fill="none" shape-rendering="crispEdges"/>
<path d="M383.8,1047.5V1118M1313.5,1047.5V1118" stroke="#000" stroke-width="4" fill="none" shape-rendering="crispEdges"/>
<path d="M305.0,498.3 L307.5,503.4 L310.0,508.6 L312.5,514.2 L315.0,520.1 L317.5,526.2 L320.0,532.1 L322.5,536.1 L325.0,539.4 L327.5,542.3 L330.0,545.0 L332.5,547.4 L335.0,549.7 L337.5,551.7 L340.0,553.7 L342.5,555.5 L345.0,557.1 L347.5,558.4 L350.0,559.5 L352.5,560.4 L355.0,561.1 L357.5,561.9 L360.0,562.5 L362.5,563.0 L365.0,563.6 L367.5,564.1 L370.0,564.9 L372.5,565.7 L375.0,566.7 L377.5,567.7 L380.0,568.7 L382.5,569.7 L385.0,570.7 L387.5,571.8 L390.0,572.9 L392.5,574.0 L395.0,575.1 L397.5,576.2 L400.0,577.2 L402.5,578.1 L405.0,578.8 L407.5,579.5 L410.0,580.1 L412.5,580.7 L415.0,581.3 L417.5,581.9 L420.0,582.7 L422.5,583.6 L425.0,584.7 L427.5,586.3 L430.0,588.2 L432.5,590.1 L435.0,591.7 L437.5,593.1 L440.0,594.5 L442.5,595.7 L445.0,596.9 L447.5,598.1 L450.0,599.2 L452.5,600.3 L455.0,601.4 L457.5,602.5 L460.0,603.5 L462.5,604.6 L465.0,605.7 L467.5,606.9 L470.0,608.0 L472.5,609.1 L475.0,610.2 L477.5,611.4 L480.0,612.5 L482.5,613.6 L485.0,614.7 L487.5,615.7 L490.0,616.7 L492.5,617.7 L495.0,618.6 L497.5,619.5 L500.0,620.4 L502.5,621.2 L505.0,622.1 L507.5,622.9 L510.0,623.7 L512.5,624.5 L515.0,625.3 L517.5,626.1 L520.0,627.1 L522.5,628.4 L525.0,630.6 L527.5,633.1 L530.0,635.6 L532.5,638.2 L535.0,640.6 L537.5,642.9 L540.0,645.2 L542.5,647.4 L545.0,649.6 L547.5,651.8 L550.0,654.0 L552.5,656.1 L555.1,658.3 L557.6,660.6 L560.1,662.9 L562.6,665.1 L565.1,666.8 L567.6,668.4 L570.1,669.8 L572.6,671.2 L575.1,672.7 L577.6,674.2 L580.1,675.7 L582.6,677.2 L585.1,678.7 L587.6,680.2 L590.1,681.5 L592.6,682.8 L595.1,684.1 L597.6,685.3 L600.1,686.5 L602.6,687.5 L605.1,689.0 L607.6,694.2 L610.1,701.0 L612.6,707.1 L615.1,712.7 L617.6,718.8 L620.1,725.2 L622.6,732.1 L625.1,737.6 L627.6,742.3 L630.1,745.8 L632.6,748.3 L635.1,750.3 L637.6,752.1 L640.1,753.8 L642.6,755.3 L645.1,756.8 L647.6,758.8 L650.1,761.4 L652.6,764.4 L655.1,767.5 L657.6,770.8 L660.1,774.3 L662.6,777.6 L665.1,780.4 L667.6,783.1 L670.1,785.6 L672.6,787.9 L675.1,790.1 L677.6,792.1 L680.1,793.9 L682.6,795.6 L685.1,797.2 L687.6,798.6 L690.1,799.9 L692.6,801.6 L695.1,803.5 L697.6,805.4 L700.1,807.6 L702.6,809.9 L705.1,812.1 L707.6,813.8 L710.1,815.2 L712.6,816.4 L715.1,817.5 L717.6,818.5 L720.1,819.3 L722.6,820.1 L725.1,820.8 L727.6,821.3 L730.1,821.8 L732.6,822.2 L735.1,822.6 L737.6,823.1 L740.1,823.7 L742.6,824.4 L745.1,825.3 L747.6,826.2 L750.1,827.2 L752.6,828.1 L755.1,828.9 L757.6,829.7 L760.1,830.3 L762.6,830.9 L765.1,831.5 L767.6,832.1 L770.1,833.0 L772.6,834.2 L775.1,835.4 L777.6,836.7 L780.1,837.9 L782.6,839.1 L785.1,840.3 L787.6,841.5 L790.1,842.7 L792.6,844.1 L795.1,845.5 L797.6,846.8 L800.1,847.9 L802.6,848.8 L805.1,849.7 L807.6,850.4 L810.1,851.0 L812.6,851.5 L815.1,852.0 L817.6,852.3 L820.1,852.7 L822.6,853.0 L825.1,853.3 L827.7,853.5 L830.2,853.7 L832.7,854.0 L835.2,854.3 L837.7,854.6 L840.2,855.0 L842.7,855.8 L845.2,857.1 L847.7,858.9 L850.2,861.2 L852.7,865.7 L855.2,872.0 L857.7,878.1 L860.2,883.6 L862.7,890.0 L865.2,895.9 L867.7,902.2 L870.2,908.3 L872.7,912.6 L875.2,914.1 L877.7,915.1 L880.2,915.8 L882.7,916.6 L885.2,917.4 L887.7,918.2 L890.2,918.9 L892.7,919.5 L895.2,919.9 L897.7,920.2 L900.2,920.4 L902.7,920.6 L905.2,920.8 L907.7,921.0 L910.2,921.1 L912.7,921.2 L915.2,921.4 L917.7,921.5 L920.2,921.6 L922.7,921.8 L925.2,922.0 L927.7,922.2 L930.2,922.4 L932.7,922.7 L935.2,923.0 L937.7,923.2 L940.2,923.5 L942.7,923.8 L945.2,924.1 L947.7,924.4 L950.2,924.7 L952.7,925.0 L955.2,925.2 L957.7,925.5 L960.2,925.8 L962.7,926.1 L965.2,926.4 L967.7,926.7 L970.2,927.0 L972.7,927.3 L975.2,927.6 L977.7,927.9 L980.2,928.1 L982.7,928.4 L985.2,928.7 L987.7,929.0 L990.2,929.3 L992.7,929.6 L995.2,929.8 L997.7,930.1 L1000.2,930.4 L1002.7,930.6 L1005.2,930.8 L1007.7,930.9 L1010.2,931.1 L1012.7,931.2 L1015.2,931.3 L1017.7,931.5 L1020.2,931.7 L1022.7,931.9 L1025.2,932.2 L1027.7,932.8 L1030.2,933.6 L1032.7,934.4 L1035.2,934.9 L1037.7,935.0 L1040.2,935.2 L1042.7,935.4 L1045.2,935.8 L1047.7,936.2 L1050.2,936.7 L1052.7,937.2 L1055.2,937.7 L1057.7,938.3 L1060.2,939.0 L1062.7,939.9 L1065.2,940.8 L1067.7,941.6 L1070.2,942.3 L1072.7,942.8 L1075.2,943.1 L1077.7,943.4 L1080.2,943.7 L1082.7,943.9 L1085.2,944.2 L1087.7,944.4 L1090.2,944.7 L1092.7,944.9 L1095.2,945.1 L1097.8,945.4 L1100.3,945.7 L1102.8,946.2 L1105.3,947.7 L1107.8,949.8 L1110.3,951.8 L1112.8,953.1 L1115.3,954.3 L1117.8,955.3 L1120.3,956.2 L1122.8,957.1 L1125.3,957.8 L1127.8,958.5 L1130.3,959.1 L1132.8,959.7 L1135.3,960.4 L1137.8,961.0 L1140.3,961.7 L1142.8,962.3 L1145.3,963.0 L1147.8,963.7 L1150.3,964.6 L1152.8,965.7 L1155.3,966.9 L1157.8,968.0 L1160.3,968.8 L1162.8,969.4 L1165.3,970.0 L1167.8,970.6 L1170.3,971.3 L1172.8,972.1 L1175.3,972.9 L1177.8,973.9 L1180.3,974.9 L1182.8,975.9 L1185.3,977.1 L1187.8,978.3 L1190.3,979.6 L1192.8,981.0 L1195.3,982.5 L1197.8,984.3 L1200.3,985.9 L1202.8,987.2 L1205.3,988.0 L1207.8,988.5 L1210.3,988.9 L1212.8,989.4 L1215.3,989.9 L1217.8,990.3 L1220.3,990.6 L1222.8,991.2 L1225.3,992.1 L1227.8,993.9 L1230.3,995.3 L1232.8,998.5 L1235.3,1002.5 L1237.8,1006.8 L1240.3,1011.1 L1242.8,1015.5 L1245.3,1019.7 L1247.8,1023.2 L1250.3,1026.2 L1252.8,1029.0 L1255.3,1031.4 L1257.8,1033.7 L1260.3,1035.7 L1262.8,1037.7 L1265.3,1039.5 L1267.8,1041.3 L1270.3,1043.0 L1272.8,1044.6 L1275.3,1046.1 L1277.8,1047.5" stroke="#0000ff" stroke-width="13.2" fill="none" stroke-linejoin="round" shape-rendering="crispEdges"/>
<path d="M1278.0,1047.5 L1280.5,1040.9 L1283.0,1034.8 L1285.5,1029.4 L1288.0,1024.5 L1290.5,1020.0 L1293.0,1015.9 L1295.5,1011.9 L1298.0,1008.7 L1300.5,1006.5 L1303.0,1004.6 L1305.5,1003.0 L1308.0,1001.6 L1310.5,1000.2 L1313.0,998.9 L1315.5,997.5 L1318.0,996.3 L1320.5,995.0 L1323.0,993.8 L1325.6,992.6 L1328.1,991.5 L1330.6,990.4 L1333.1,989.3 L1335.6,988.2 L1338.1,987.2 L1340.6,986.1 L1343.1,985.1 L1345.6,984.2 L1348.1,983.2 L1350.6,982.2 L1353.1,981.2 L1355.6,980.0 L1358.1,978.8 L1360.6,977.6 L1363.1,976.3 L1365.6,975.0 L1368.1,973.7 L1370.6,972.4 L1373.1,971.1 L1375.6,969.8 L1378.1,968.5 L1380.6,967.1 L1383.1,965.8 L1385.6,964.4 L1388.1,963.1 L1390.6,961.9 L1393.1,960.6 L1395.6,959.4 L1398.2,958.2 L1400.7,957.1 L1403.2,955.9 L1405.7,954.8 L1408.2,953.7 L1410.7,952.6 L1413.2,951.4 L1415.7,950.3 L1418.2,949.2 L1420.7,948.2 L1423.2,947.1 L1425.7,946.0 L1428.2,944.9 L1430.7,943.9 L1433.2,942.8 L1435.7,941.7 L1438.2,940.6 L1440.7,939.5 L1443.2,938.4 L1445.7,937.3 L1448.2,936.2 L1450.7,935.0 L1453.2,933.9 L1455.7,932.8 L1458.2,931.6 L1460.7,930.4 L1463.2,929.1 L1465.7,927.7 L1468.2,926.2 L1470.8,924.6 L1473.3,923.0 L1475.8,921.5 L1478.3,920.3 L1480.8,919.2 L1483.3,918.2 L1485.8,917.2 L1488.3,916.3 L1490.8,915.4 L1493.3,914.4 L1495.8,913.3 L1498.3,912.1 L1500.8,910.8 L1503.3,909.5 L1505.8,908.2 L1508.3,906.9 L1510.8,905.7 L1513.3,904.5 L1515.8,903.3 L1518.3,902.2 L1520.8,901.1 L1523.3,900.0 L1525.8,898.9 L1528.3,897.8 L1530.8,896.6 L1533.3,895.6 L1535.8,894.5 L1538.3,893.4 L1540.8,892.0 L1543.3,890.2 L1545.9,887.5 L1548.4,884.1 L1550.9,880.4 L1553.4,876.0 L1555.9,871.1 L1558.4,866.3 L1560.9,861.3 L1563.4,856.6 L1565.9,852.7 L1568.4,849.3 L1570.9,846.5 L1573.4,844.0 L1575.9,842.0 L1578.4,840.1 L1580.9,838.1 L1583.4,835.6 L1585.9,832.5 L1588.4,829.3 L1590.9,826.4 L1593.4,824.1 L1595.9,822.1 L1598.4,819.8 L1600.9,816.9 L1603.4,813.1 L1605.9,808.8 L1608.4,803.6 L1610.9,800.4 L1613.4,798.7 L1615.9,797.5 L1618.5,796.3 L1621.0,794.9 L1623.5,793.4 L1626.0,791.8 L1628.5,789.8 L1631.0,786.8 L1633.5,783.7 L1636.0,781.2 L1638.5,779.9 L1641.0,778.8 L1643.5,778.0 L1646.0,777.2 L1648.5,776.5 L1651.0,775.8 L1653.5,775.0 L1656.0,773.6 L1658.5,771.5 L1661.0,769.2 L1663.5,767.0 L1666.0,764.9 L1668.5,762.7 L1671.0,760.3 L1673.5,757.5 L1676.0,754.3 L1678.5,751.4 L1681.0,749.0 L1683.5,747.2 L1686.0,745.7 L1688.5,744.2 L1691.1,742.4 L1693.6,740.1 L1696.1,737.6 L1698.6,735.4 L1701.1,733.6 L1703.6,731.9 L1706.1,730.5 L1708.6,729.3 L1711.1,728.3 L1713.6,727.4 L1716.1,726.7 L1718.6,726.0 L1721.1,725.3 L1723.6,724.7 L1726.1,724.3 L1728.6,723.8 L1731.1,723.3 L1733.6,722.4 L1736.1,721.3 L1738.6,720.2 L1741.1,719.4 L1743.6,718.6 L1746.1,717.9 L1748.6,717.2 L1751.1,716.6 L1753.6,716.0 L1756.1,715.3 L1758.6,714.7 L1761.1,714.1 L1763.7,713.6 L1766.2,713.0 L1768.7,712.5 L1771.2,711.9 L1773.7,711.2 L1776.2,710.5 L1778.7,709.7 L1781.2,708.8 L1783.7,707.9 L1786.2,707.0 L1788.7,706.1 L1791.2,705.3 L1793.7,704.5 L1796.2,703.7 L1798.7,703.0 L1801.2,702.3 L1803.7,701.5 L1806.2,700.8 L1808.7,700.0 L1811.2,699.2 L1813.7,698.2 L1816.2,697.3 L1818.7,696.3 L1821.2,695.3 L1823.7,694.3 L1826.2,693.4 L1828.7,692.5 L1831.2,691.7 L1833.7,690.9 L1836.3,690.2 L1838.8,689.4 L1841.3,688.6 L1843.8,687.8 L1846.3,686.9 L1848.8,686.0 L1851.3,685.0 L1853.8,683.7 L1856.3,681.8 L1858.8,679.4 L1861.3,677.4 L1863.8,676.2 L1866.3,675.3 L1868.8,674.6 L1871.3,673.9 L1873.8,673.1 L1876.3,672.3 L1878.8,671.6 L1881.3,670.8 L1883.8,670.0 L1886.3,669.3 L1888.8,668.5 L1891.3,667.7 L1893.8,667.0 L1896.3,666.3 L1898.8,665.6 L1901.3,664.8 L1903.8,664.1 L1906.3,663.3 L1908.8,662.6 L1911.4,662.0 L1913.9,661.4 L1916.4,661.0 L1918.9,660.7 L1921.4,660.5 L1923.9,660.3 L1926.4,660.2 L1928.9,660.0 L1931.4,659.9 L1933.9,659.8 L1936.4,659.6 L1938.9,659.5 L1941.4,659.4 L1943.9,659.2 L1946.4,659.1 L1948.9,659.0 L1951.4,658.9 L1953.9,658.8 L1956.4,658.8 L1958.9,658.7 L1961.4,658.7 L1963.9,658.6 L1966.4,658.5 L1968.9,658.4 L1971.4,658.3 L1973.9,658.1 L1976.4,656.8 L1978.9,653.5 L1981.4,650.0 L1984.0,646.6 L1986.5,643.2 L1989.0,641.1 L1991.5,639.8 L1994.0,638.7 L1996.5,637.9 L1999.0,637.1 L2001.5,636.4 L2004.0,635.8 L2006.5,635.2 L2009.0,634.4 L2011.5,633.4 L2014.0,632.1 L2016.5,630.7 L2019.0,629.6 L2021.5,628.7 L2024.0,627.9 L2026.5,627.2 L2029.0,626.5 L2031.5,625.9 L2034.0,625.4 L2036.5,624.9 L2039.0,624.3 L2041.5,623.7 L2044.0,622.9 L2046.5,621.9 L2049.0,620.3 L2051.5,616.8 L2054.0,613.3 L2056.6,611.2 L2059.1,609.0 L2061.6,606.6 L2064.1,605.1 L2066.6,603.7 L2069.1,602.3 L2071.6,600.8 L2074.1,599.4 L2076.6,598.1 L2079.1,596.7 L2081.6,594.8 L2084.1,592.8 L2086.6,591.5 L2089.1,591.1 L2091.6,589.2 L2094.1,587.1 L2096.6,586.1 L2099.1,585.8 L2101.6,585.6 L2104.1,585.0 L2106.6,583.8 L2109.1,582.3 L2111.6,580.9 L2114.1,579.5 L2116.6,578.3 L2119.1,577.5 L2121.6,576.8 L2124.1,576.3 L2126.6,575.7 L2129.2,575.2 L2131.7,574.6 L2134.2,574.1 L2136.7,573.7 L2139.2,573.0 L2141.7,572.0 L2144.2,569.2 L2146.7,568.7 L2149.2,567.6 L2151.7,564.8 L2154.2,564.1 L2156.7,562.5 L2159.2,557.9 L2161.7,551.5 L2164.2,543.8 L2166.7,540.3 L2169.2,536.8 L2171.7,533.4 L2174.2,527.9 L2176.7,521.8 L2179.2,518.4 L2181.7,516.8 L2184.2,515.7 L2186.7,514.9 L2189.2,514.4 L2191.7,513.9 L2194.2,513.5 L2196.7,513.1 L2199.2,512.8 L2201.7,512.4 L2204.3,512.0 L2206.8,511.7 L2209.3,511.3" stroke="#0000ff" stroke-width="10.6" fill="none" stroke-linejoin="round" shape-rendering="crispEdges"/>
<text transform="translate(306.0,87.0) scale(1,1.016)" font-size="56.7">Virtaama summa, 5300650 Hamari</text>
<text transform="translate(209.2,1058.0) scale(1,1.016)" font-size="56.3" text-anchor="middle">0</text>
<text transform="translate(209.2,924.9) scale(1,1.016)" font-size="56.3" text-anchor="middle">200</text>
<text transform="translate(209.2,791.7) scale(1,1.016)" font-size="56.3" text-anchor="middle">400</text>
<text transform="translate(209.2,658.6) scale(1,1.016)" font-size="56.3" text-anchor="middle">600</text>
<text transform="translate(209.2,525.4) scale(1,1.016)" font-size="56.3" text-anchor="middle">800</text>
<text transform="translate(209.2,392.3) scale(1,1.016)" font-size="56.3" text-anchor="middle">1000</text>
<text transform="translate(209.2,259.1) scale(1,1.016)" font-size="56.3" text-anchor="middle">1200</text>
<text transform="translate(209.2,126.0) scale(1,1.016)" font-size="56.3" text-anchor="middle">1400</text>
<text transform="translate(98.5,1022.0) rotate(-90) scale(1,1.016)" font-size="49.9">Cumulative flow</text>
<text transform="translate(98.5,621.2) rotate(-90) scale(1,1.016)" font-size="49.8">864 000 m³/10 vrky</text>
<text transform="translate(317.0,1120.6) scale(1,1.016)" font-size="35.55">XII</text>
<text transform="translate(406.7,1120.6) scale(1,1.016)" font-size="35.55">I</text>
<text transform="translate(475.9,1120.6) scale(1,1.016)" font-size="35.55">II</text>
<text transform="translate(547.2,1120.6) scale(1,1.016)" font-size="35.55">III</text>
<text transform="translate(626.2,1120.6) scale(1,1.016)" font-size="35.55">IV</text>
<text transform="translate(712.4,1120.6) scale(1,1.016)" font-size="35.55">V</text>
<text transform="translate(781.5,1120.6) scale(1,1.016)" font-size="35.55">VI</text>
<text transform="translate(858.0,1120.6) scale(1,1.016)" font-size="35.55">VII</text>
<text transform="translate(927.8,1120.6) scale(1,1.016)" font-size="35.55">VIII</text>
<text transform="translate(1015.9,1120.6) scale(1,1.016)" font-size="35.55">IX</text>
<text transform="translate(1100.6,1120.6) scale(1,1.016)" font-size="35.55">X</text>
<text transform="translate(1171.3,1120.6) scale(1,1.016)" font-size="35.55">XI</text>
<text transform="translate(1246.7,1120.6) scale(1,1.016)" font-size="35.55">XII</text>
<text transform="translate(1336.4,1120.6) scale(1,1.016)" font-size="35.55">I</text>
<text transform="translate(1405.6,1120.6) scale(1,1.016)" font-size="35.55">II</text>
<text transform="translate(1476.9,1120.6) scale(1,1.016)" font-size="35.55">III</text>
<text transform="translate(1555.9,1120.6) scale(1,1.016)" font-size="35.55">IV</text>
<text transform="translate(1642.1,1120.6) scale(1,1.016)" font-size="35.55">V</text>
<text transform="translate(1711.3,1120.6) scale(1,1.016)" font-size="35.55">VI</text>
<text transform="translate(1787.7,1120.6) scale(1,1.016)" font-size="35.55">VII</text>
<text transform="translate(1857.5,1120.6) scale(1,1.016)" font-size="35.55">VIII</text>
<text transform="translate(1945.6,1120.6) scale(1,1.016)" font-size="35.55">IX</text>
<text transform="translate(2030.3,1120.6) scale(1,1.016)" font-size="35.55">X</text>
<text transform="translate(2101.0,1120.6) scale(1,1.016)" font-size="35.55">XI</text>
<text transform="translate(2176.4,1120.6) scale(1,1.016)" font-size="35.55">XII</text>
<text transform="translate(386.2,1165.0) scale(1,1.016)" font-size="35.55">2025</text>
<text transform="translate(1315.9,1165.0) scale(1,1.016)" font-size="35.55">2026</text>
<text transform="translate(2224.0,1139.8) scale(1,1.016)" font-size="35.4">18-Dec-2025 06:46 WSFS-O</text>
<text transform="translate(2222.5,84.4) scale(1,1.016)" font-size="35.55">Ennusteen alku</text>
<path d="M2223,101.0H2541" stroke="#00ffff" stroke-width="10" stroke-dasharray="15 13.3" fill="none" shape-rendering="crispEdges"/>
<text transform="translate(2222.5,158.4) scale(1,1.016)" font-size="35.55">Keskiennuste</text>
<path d="M2223,175.0H2541" stroke="#0000ff" stroke-width="10" fill="none" shape-rendering="crispEdges"/>
<text transform="translate(2222.5,232.4) scale(1,1.016)" font-size="35.55">25-75% vaihteluväli</text>
<path d="M2223,249.0H2541" stroke="#00ff00" stroke-width="14" fill="none" shape-rendering="crispEdges"/>
<text transform="translate(2222.5,306.4) scale(1,1.016)" font-size="35.55">5-95% vaihteluväli</text>
<path d="M2223,322.5H2541" stroke="#ff0000" stroke-width="13" fill="none" shape-rendering="crispEdges"/>
<text transform="translate(2222.5,380.4) scale(1,1.016)" font-size="35.55">Ennusteen vaihteluväli</text>
<path d="M2223,396.5H2541" stroke="#ffff00" stroke-width="13" fill="none" shape-rendering="crispEdges"/>
<text transform="translate(2222.5,454.4) scale(1,1.016)" font-size="35.55">Simuloitu historia</text>
<path d="M2223,470.5H2541" stroke="#0000ff" stroke-width="13" fill="none" shape-rendering="crispEdges"/>
</svg></body></html>
